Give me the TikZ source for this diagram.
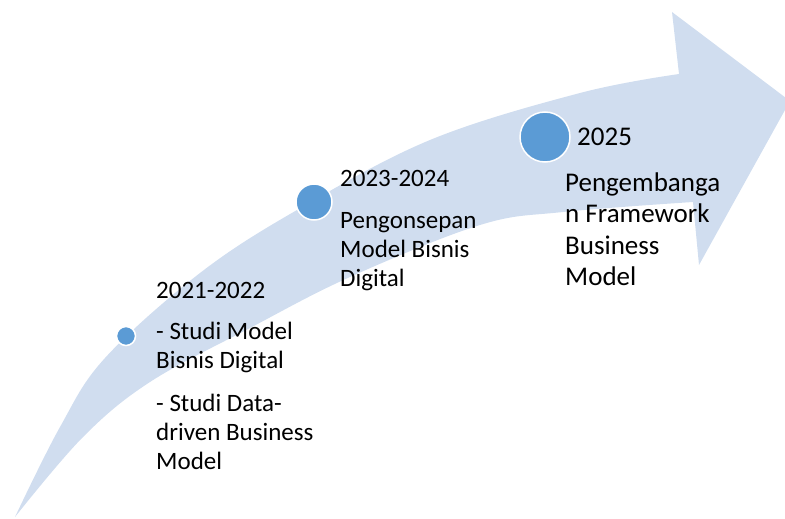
\documentclass[tikz,border=0pt]{standalone}
\usepackage{fontspec}
\setmainfont{Carlito}
\definecolor{bandblue}{RGB}{208,221,239}
\definecolor{dotblue}{RGB}{91,155,213}
\begin{document}
\begin{tikzpicture}[x=1pt,y=-1pt,
  dot/.style={circle, fill=dotblue, draw=white, line width=1.5pt, inner sep=0pt},
  lblA/.style={anchor=base west, inner sep=0pt, font=\fontsize{25}{29}\selectfont, text=black},
  lblB/.style={anchor=base west, inner sep=0pt, font=\fontsize{27}{31.5}\selectfont, text=black}]
\useasboundingbox (0,0) rectangle (785,519);
\clip (0,0) rectangle (785,519);
% curved arrow
\fill[bandblue] plot[smooth, tension=0.6] coordinates {(15,517) (60,427) (105,358) (200,273) (297,210) (430,140) (580,93) (679,74)}
  -- (672,12) -- (790,101) -- (699,265) -- (693,202)
  -- plot[smooth, tension=0.6] coordinates {(693,202) (563,212) (480,225) (350,277) (250,328) (150,382) (83,437) (15,517)} -- cycle;
% milestones
\node[dot, minimum size=19pt] (c1) at (126,336) {};
\node[dot, minimum size=36pt] (c2) at (314,202) {};
\node[dot, minimum size=50pt] (c3) at (545,137) {};
% texts
\node[lblA] (h1) at (156,298) {2021-2022};
\node[lblA] (t1) at (156,339) {\vtop{\hbox{- Studi Model}\hbox{Bisnis Digital}\vskip14pt\hbox{- Studi Data-}\hbox{driven Business}\hbox{Model}}};
\node[lblA] (h2) at (340,186) {2023-2024};
\node[lblA] (t2) at (340,228) {\vtop{\hbox{Pengonsepan}\hbox{Model Bisnis}\hbox{Digital}}};
\node[lblB] (h3) at (577,146) {2025};
\node[lblB] (t3) at (565,191) {\vtop{\hbox{Pengembanga}\hbox{n Framework}\hbox{Business}\hbox{Model}}};
\end{tikzpicture}
\end{document}
